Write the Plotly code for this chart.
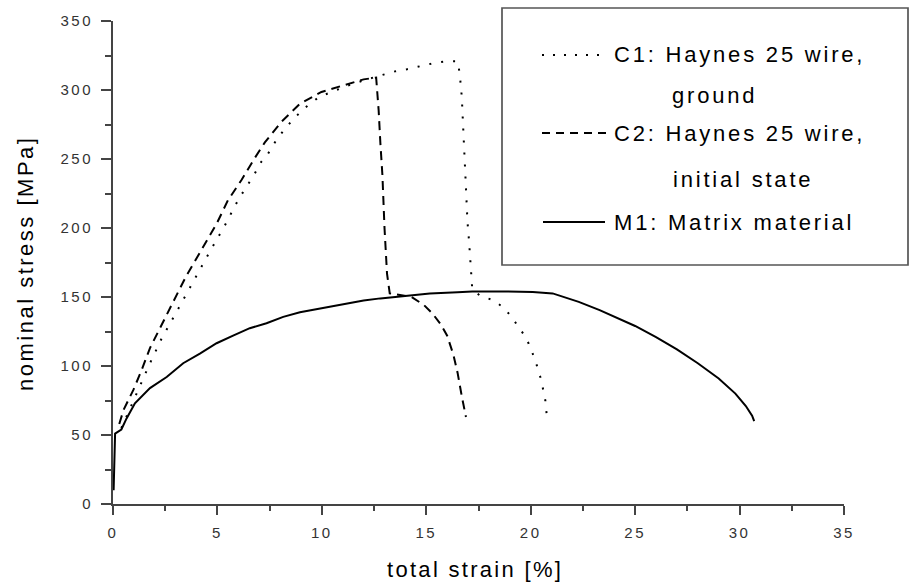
import plotly.graph_objects as go

# ---------------- data ----------------
x_tick_vals = [0, 5, 10, 15, 20, 25, 30, 35]
y_tick_vals = [0, 50, 100, 150, 200, 250, 300, 350]

c1_strain = [0.4, 0.97, 1.45, 1.77, 2.33, 3.0, 3.5, 4.0, 4.64, 5.36, 5.98, 6.39, 6.7, 7.1,
             7.43, 7.83, 8.24, 8.7, 9.27, 9.87, 10.5, 11.2, 12.0, 12.85, 13.5, 14.07, 14.64,
             15.36, 16.0, 16.5, 16.6, 16.7, 16.76, 16.8, 16.87, 16.92, 16.97, 17.05, 17.13,
             17.2, 17.56, 18.2, 18.76, 19.2, 19.8, 20.2, 20.5, 20.7, 20.8]
c1_stress = [55, 74, 91, 102, 120, 138, 152, 166, 183, 202, 220, 230, 237, 248,
             254, 264, 272, 280, 288, 295, 299, 303, 307, 310.6, 313.5, 315, 317,
             319.5, 320.8, 320.8, 312, 295, 275, 257, 239, 222, 205, 190, 172,
             156, 151, 147.7, 141.7, 133, 120, 105, 90, 75, 59]

c2_strain = [0.3, 0.5, 0.97, 1.37, 1.77, 2.25, 2.8, 3.5, 4.0, 4.4, 4.96, 5.5, 6.16, 6.8,
             7.27, 8.07, 8.95, 9.98, 11.0, 12.0, 12.6, 12.65, 12.72, 12.8, 12.9, 13.0,
             13.12, 13.25, 14.3, 14.9, 15.3, 15.7, 16.0, 16.3, 16.5, 16.7, 16.9]
c2_stress = [58, 68, 82.5, 97, 113, 128, 144, 165, 178, 189, 203, 220, 235, 251,
             262, 277, 290, 298.6, 303, 307.7, 309, 300, 285, 262, 238, 200,
             167, 152.6, 150, 144, 138, 130, 122, 108, 95, 78, 63]

m1_strain = [0.03, 0.05, 0.07, 0.1, 0.4, 0.65, 1.05, 1.77, 2.57, 3.36, 4.16, 4.96, 5.75,
             6.55, 7.35, 8.15, 8.95, 10.0, 11.0, 12.0, 12.8, 14.0, 15.17, 16.5, 17.2,
             18.5, 20.1, 21.05, 22.3, 23.3, 24.0, 25.0, 26.0, 27.0, 28.0, 29.0, 29.8,
             30.3, 30.6, 30.7]
m1_stress = [10, 30, 45, 51, 54, 62, 73, 84, 92, 102, 109, 116.5, 122,
             127.4, 131, 135.6, 139, 142, 145, 147.5, 149, 151, 152.6, 153.5, 154,
             154, 153.7, 152.6, 146.5, 140.5, 136, 129, 121, 112, 102, 91, 80,
             71, 64, 60]

legend_labels = ["C1: Haynes 25 wire,", "ground", "C2: Haynes 25 wire,",
                 "initial state", "M1: Matrix material"]
x_title = "total strain [%]"
y_title = "nominal stress [MPa]"

# ---------------- layout helpers ----------------
W, H = 910, 585
L, R, T, B = 113, 66, 21, 81
PW, PH = W - L - R, H - T - B


def px(xp):
    return (xp - L) / PW


def py(yp):
    return (H - B - yp) / PH


def spaced(s, sp):
    return '<span style="letter-spacing:%spx">%s</span>' % (sp, s)


FONT = "Liberation Sans, Arial, sans-serif"

fig = go.Figure()
fig.add_trace(go.Scatter(x=c1_strain, y=c1_stress, mode="lines", name="C1",
                         line=dict(color="black", width=2, dash="2px,10px"),
                         showlegend=False))
fig.add_trace(go.Scatter(x=c2_strain, y=c2_stress, mode="lines", name="C2",
                         line=dict(color="black", width=2, dash="9px,6px"),
                         showlegend=False))
fig.add_trace(go.Scatter(x=m1_strain, y=m1_stress, mode="lines", name="M1",
                         line=dict(color="black", width=2),
                         showlegend=False))

axis_common = dict(
    showline=True, linecolor="#444", linewidth=2,
    ticks="outside", tickcolor="#444", tickwidth=2,
    showgrid=False, zeroline=False,
    tickfont=dict(family=FONT, size=15, color="#333"),
    ticklabelstandoff=5,
)

fig.update_xaxes(range=[0, 35], tickvals=x_tick_vals,
                 ticktext=[spaced(str(v), 2.5) for v in x_tick_vals],
                 ticklen=9,
                 minor=dict(ticks="outside", ticklen=5, tickwidth=2, tickcolor="#444", dtick=2.5),
                 **axis_common)
fig.update_yaxes(range=[0, 350], tickvals=y_tick_vals,
                 ticktext=[spaced(str(v), 2.5) for v in y_tick_vals],
                 ticklen=10,
                 minor=dict(ticks="outside", ticklen=6, tickwidth=2, tickcolor="#444", dtick=25),
                 **axis_common)

annotations = [
    dict(text=spaced(x_title, 2.3), x=px(475), y=py(569), xref="paper", yref="paper",
         showarrow=False, xanchor="center", yanchor="middle",
         font=dict(family=FONT, size=22, color="black")),
    dict(text=spaced(y_title, 2.5), x=px(25), y=py(264), xref="paper", yref="paper",
         showarrow=False, xanchor="center", yanchor="middle", textangle=-90,
         font=dict(family=FONT, size=22, color="black")),
]
leg_pos = [(612, 55), (670, 95), (612, 133), (671, 179), (612, 222)]
for txt, (lx, ly) in zip(legend_labels, leg_pos):
    annotations.append(dict(text=spaced(txt, 2.8), x=px(lx), y=py(ly), xref="paper", yref="paper",
                            showarrow=False, xanchor="left", yanchor="middle",
                            font=dict(family=FONT, size=22, color="black")))

shapes = [
    dict(type="rect", xref="paper", yref="paper", x0=px(502), x1=px(908), y0=py(265), y1=py(8),
         line=dict(color="#555", width=1.7), fillcolor="white", layer="below"),
    dict(type="line", xref="paper", yref="paper", x0=px(542), x1=px(608), y0=py(55), y1=py(55),
         line=dict(color="black", width=2, dash="2px,9px")),
    dict(type="line", xref="paper", yref="paper", x0=px(542), x1=px(608), y0=py(133), y1=py(133),
         line=dict(color="black", width=2, dash="8px,6px")),
    dict(type="line", xref="paper", yref="paper", x0=px(543), x1=px(605), y0=py(222), y1=py(222),
         line=dict(color="black", width=2)),
]

fig.update_layout(
    width=W, height=H,
    margin=dict(l=L, r=R, t=T, b=B, pad=0),
    paper_bgcolor="white", plot_bgcolor="rgba(0,0,0,0)",
    showlegend=False,
    annotations=annotations,
    shapes=shapes,
)

fig.write_html("out.html")
